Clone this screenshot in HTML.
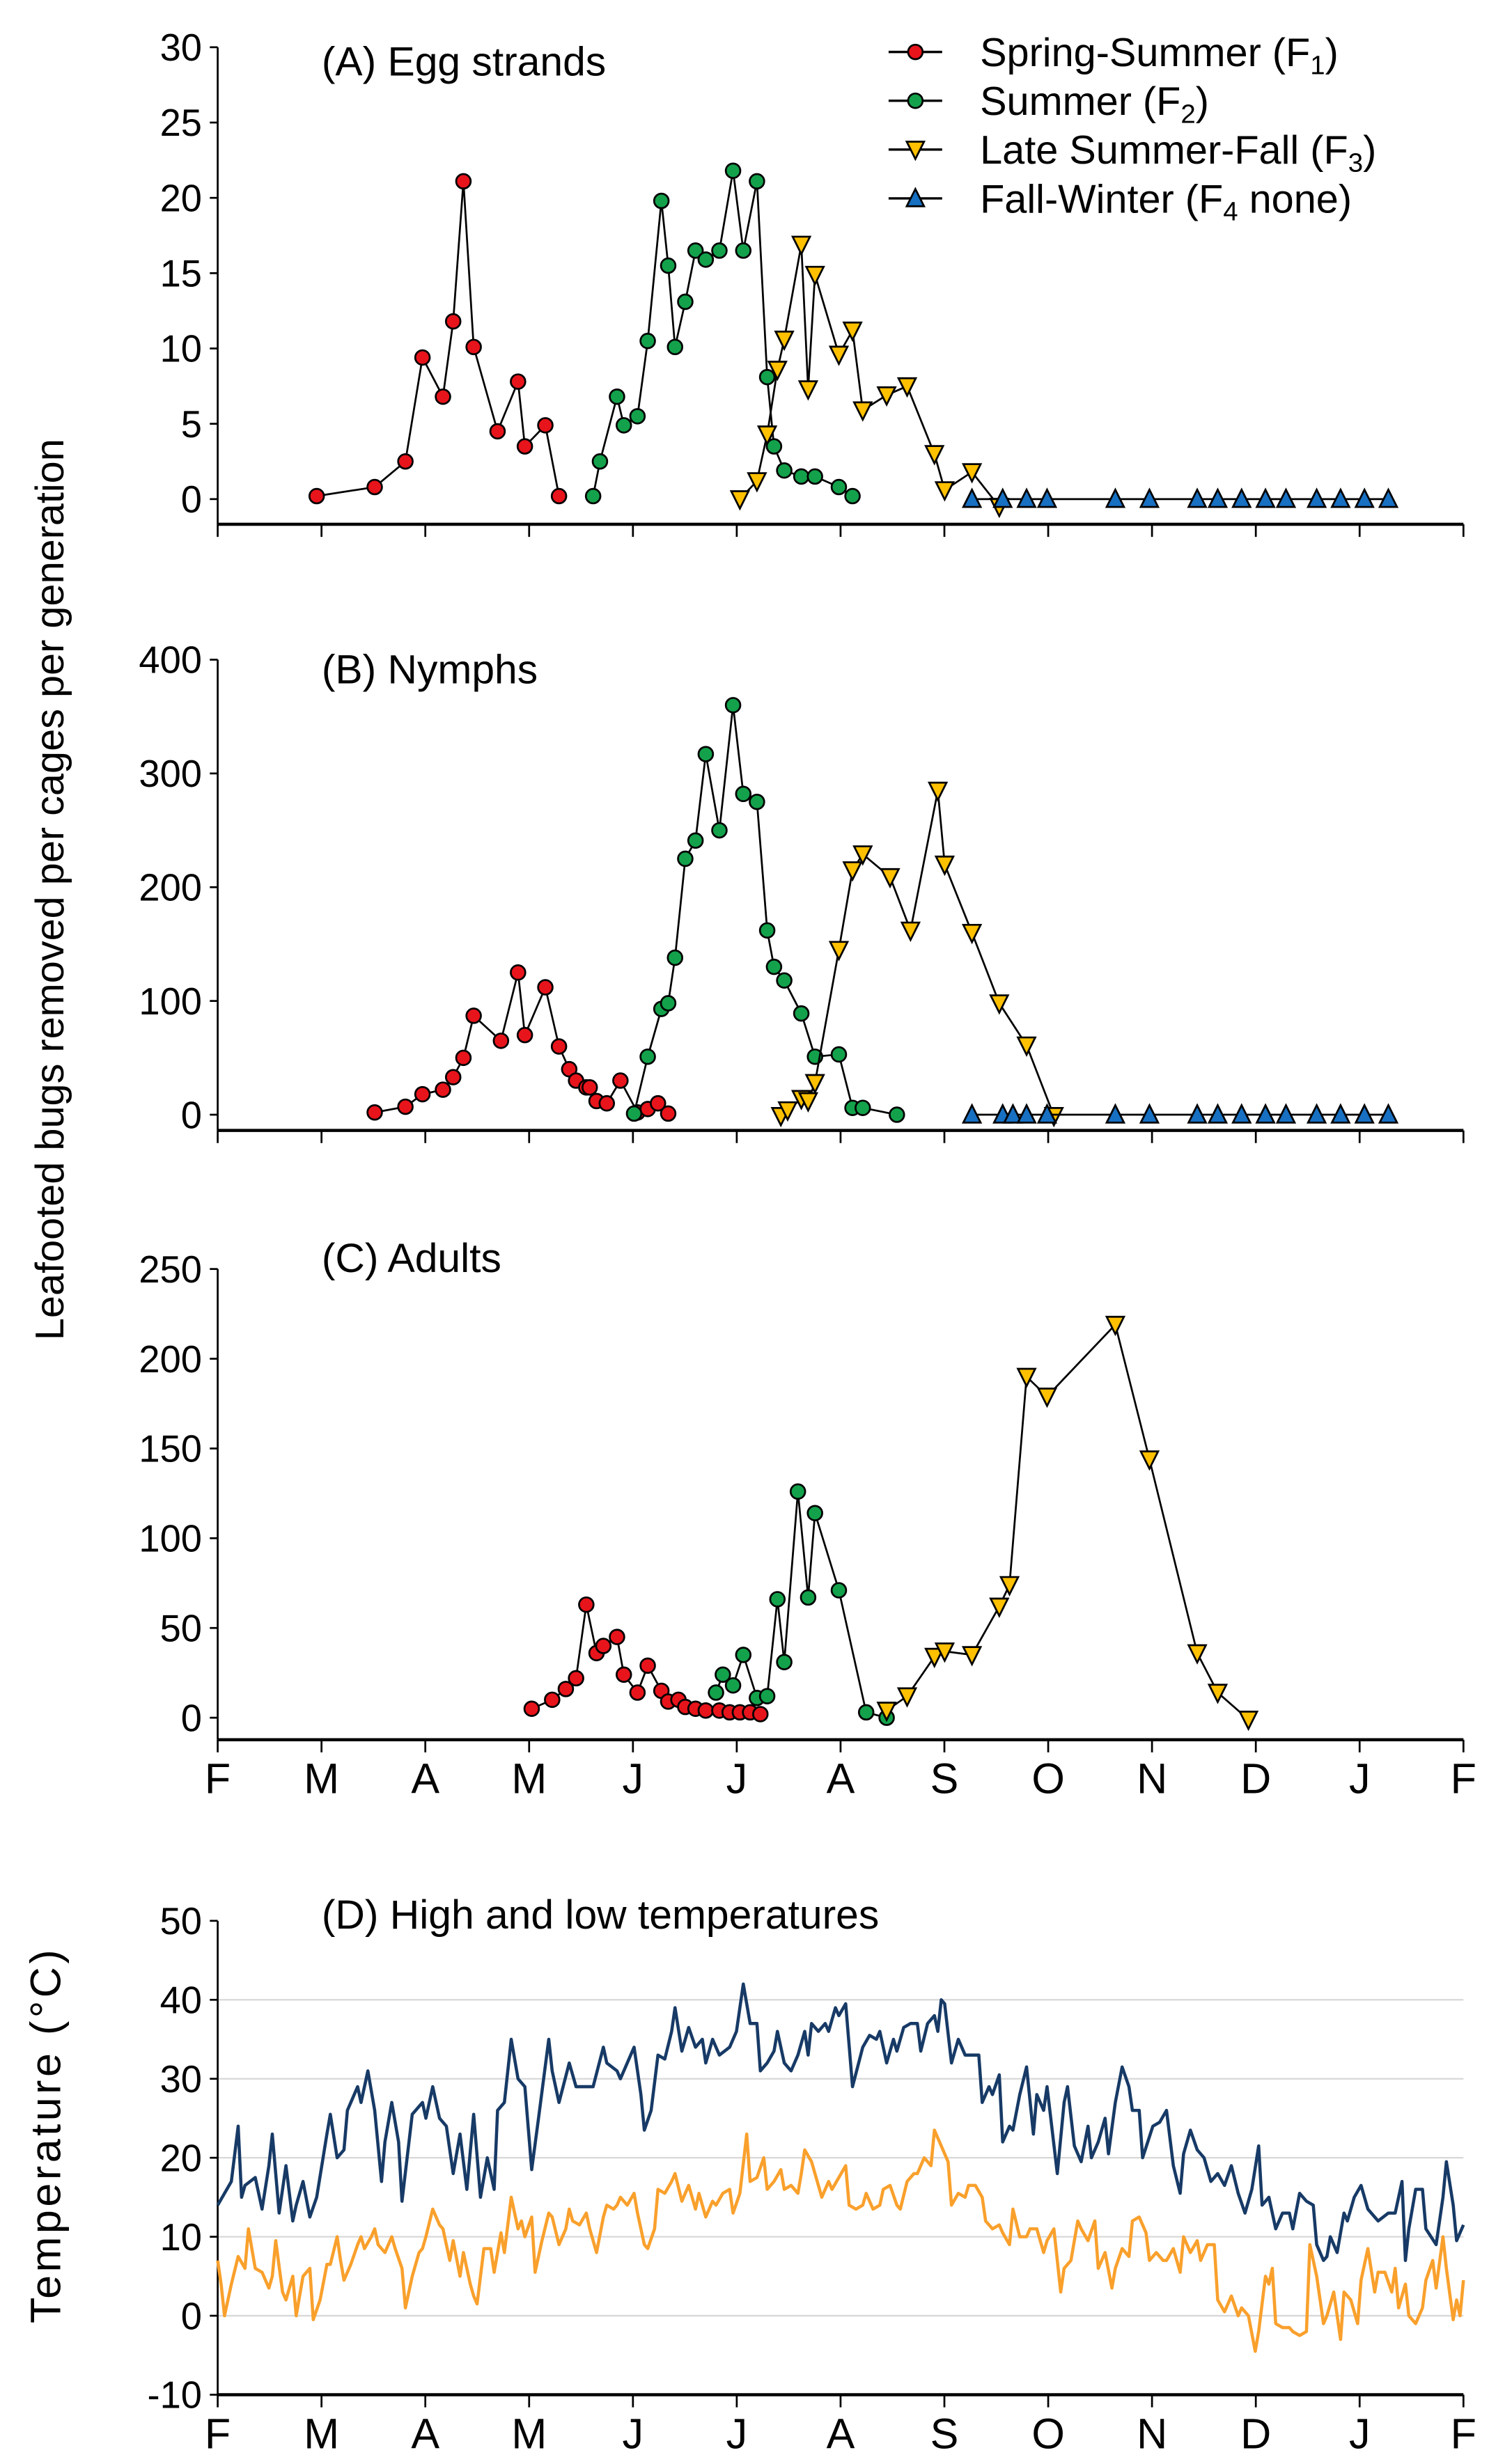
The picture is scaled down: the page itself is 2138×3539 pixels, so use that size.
<!DOCTYPE html>
<html><head><meta charset="utf-8"><style>
html,body{margin:0;padding:0;background:#fff}
svg{display:block}
text{font-family:"Liberation Sans",Arial,sans-serif;fill:#000}
text.narrow{font-family:"Liberation Sans Narrow","Arial Narrow","Liberation Sans",sans-serif}
</style></head><body>
<svg id="fig" width="2138" height="3539" viewBox="0 0 945 1565" xmlns="http://www.w3.org/2000/svg"></svg>
<script>
// ---------- data ----------
const months = ["F","M","A","M","J","J","A","S","O","N","D","J","F"];
// Panel A: egg strands (day since Feb 1, value)
const aF1Days = [29,46,55,60,66,69,72,75,82,88,90,96,100];
const aF1Vals = [0.2,0.8,2.5,9.4,6.8,11.8,21.1,10.1,4.5,7.8,3.5,4.9,0.2];
const aF2Days = [110,112,117,119,123,126,130,132,134,137,140,143,147,151,154,158,161,163,166,171,175,182,186];
const aF2Vals = [0.2,2.5,6.8,4.9,5.5,10.5,19.8,15.5,10.1,13.1,16.5,15.9,16.5,21.8,16.5,21.1,8.1,3.5,1.9,1.5,1.5,0.8,0.2];
const aF3Days = [153,158,161,164,166,171,173,175,182,186,189,196,202,210,213,221,229];
const aF3Vals = [0,1.2,4.3,8.6,10.6,16.9,7.3,14.9,9.6,11.2,5.9,6.9,7.5,3,0.6,1.8,-0.5];
const aF4Days = [221,230,237,243,263,273,287,293,300,307,313,322,329,336,343];
const aF4Vals = [0,0,0,0,0,0,0,0,0,0,0,0,0,0,0];
// Panel B: nymphs
const bF1Days = [46,55,60,66,69,72,75,83,88,90,96,100,103,105,108,109,111,114,118,123,126,129,132];
const bF1Vals = [2,7,18,22,33,50,87,65,125,70,112,60,40,30,24,24,12,10,30,2,5,10,1];
const bF2Days = [122,126,130,132,134,137,140,143,147,151,154,158,161,163,166,171,175,182,186,189,199];
const bF2Vals = [1,51,93,98,138,225,241,317,250,360,282,275,162,130,118,89,51,53,6,6,0];
const bF3Days = [165,167,171,173,175,182,186,189,197,203,211,213,221,229,237,245];
const bF3Vals = [-1,4,14,12,28,145,215,229,209,162,285,220,160,98,61,-1];
const bF4Days = [221,230,233,237,243,263,273,287,293,300,307,313,322,329,336,343];
const bF4Vals = [0,0,0,0,0,0,0,0,0,0,0,0,0,0,0,0];
// Panel C: adults
const cF1Days = [92,98,102,105,108,111,113,117,119,123,126,130,132,135,137,140,143,147,150,153,156,159];
const cF1Vals = [5,10,16,22,63,36,40,45,24,14,29,15,9,10,6,5,4,4,3,3,3,2];
const cF2Days = [146,148,151,154,158,161,164,166,170,173,175,182,190,196];
const cF2Vals = [14,24,18,35,11,12,66,31,126,67,114,71,3,0];
const cF3Days = [196,202,210,213,221,229,232,237,243,263,273,287,293,302];
const cF3Vals = [4,12,34,37,35,62,74,190,179,219,144,36,14,-1];
// Panel D: temperatures
const hiDays = [0,4,6,7,8,11,13,15,16,18,20,22,23,25,27,29,32,33,35,37,38,41,42,44,46,48,49,51,53,54,57,60,61,63,65,67,69,71,73,75,77,79,81,82,84,86,88,90,92,94,97,98,100,103,105,108,110,113,114,117,118,121,122,124,125,127,129,131,133,134,136,138,140,142,143,145,147,150,152,154,156,158,159,161,163,164,166,168,170,172,173,174,176,178,179,181,182,184,186,189,191,193,194,196,198,199,201,203,205,206,208,210,211,212,213,215,217,219,221,223,224,226,227,229,230,232,233,235,237,239,240,242,243,246,248,249,251,253,255,256,258,260,261,263,265,267,268,270,271,274,276,278,280,282,283,285,287,289,291,293,295,297,299,301,303,305,306,308,310,312,314,315,317,319,321,322,324,325,326,328,330,331,333,335,337,339,340,343,345,347,348,349,351,353,354,357,359,360,362,363,365];
const hiVals = [14,17,24,15,16.5,17.5,13.5,19,23,13,19,12,14,17,12.5,15,23,25.5,20,21,26,29,27,31,26,17,22,27,22,14.5,25.5,27,25,29,25,24,18,23,16,25.5,15,20,16,26,27,35,30,29,18.5,25,35,31,27,32,29,29,29,34,32,31,30,33,34,28,23.5,26,33,32.5,36,39,33.5,36.5,34,35,32,35,33,34,36,42,37,37,31,32,33.5,36,32,31,33,36,33,37,36,37,36,39,38,39.5,29,34,35.5,35,36,32,35,33.5,36.5,37,37,33.5,37,38,36,40,39.5,32,35,33,33,33,27,29,28,30.5,22,24,23.5,28,31.5,23,28,26,29,18,27,29,21.5,19.5,24,20,22,25,20.5,27,31.5,29,26,26,20,24,24.5,26,19,15.5,20.5,23.5,21,20,17,18,16.5,19,15.5,13,16,21.5,14,15,11,13,13,11,15.5,14.5,14,9,7,7.5,10,8,13,12,15,16.5,13.5,12.5,12,13,13,17,7,11,16,16,11,9,15,19.5,14,9.5,11.5,11];
const loDays = [0,1,2,4,6,8,9,11,13,15,16,17,19,20,22,23,25,27,28,30,32,33,35,36,37,39,41,42,43,45,46,47,49,51,52,54,55,57,59,60,61,63,65,66,68,69,71,72,74,75,76,78,80,81,83,84,86,88,89,90,92,93,95,97,98,100,102,103,104,106,108,109,111,113,114,116,117,118,120,122,123,125,126,128,129,131,133,134,136,138,140,141,143,145,146,148,150,151,153,155,156,158,160,161,163,165,166,168,170,171,172,174,176,177,179,180,182,184,185,187,189,190,192,194,195,197,199,200,202,204,205,207,209,210,212,214,215,217,219,220,222,224,225,227,229,230,232,233,235,237,238,240,242,243,245,247,248,250,252,253,255,257,258,260,262,263,265,267,268,270,272,273,275,277,278,280,282,283,285,287,288,290,292,293,295,297,299,300,302,304,305,307,308,309,310,312,314,315,317,319,320,322,324,325,327,329,330,332,334,335,337,339,340,342,344,345,346,348,349,351,353,354,356,357,359,360,362,363,364,365];
const loVals = [7,4,0,4,7.5,6,11,6,5.5,3.5,5,9.5,3,2,5,0,5,6,-0.5,2,6.5,6.5,10,7,4.5,6.5,9,10,8.5,10,11,9,8,10,8.5,6,1,5,8,8.5,10,13.5,11.5,11,7,9.5,5,8,4,2.5,1.5,8.5,8.5,5.5,10.5,8,15,11,12,10,12.5,5.5,9.5,13,12.5,9,11,13.5,12,11.5,13,11,8,12.5,14,13.5,14,15,14,15.5,13,9,8.5,11,16,15.5,17,18,14.5,16.5,13.5,15.5,12.5,14.5,14,15.5,16,13,15.5,23,17,17.5,20,16,17,18.5,16,16.5,15.5,18,21,19.5,16.5,15,17,16,17.5,19,14,13.5,14,15.5,13.5,14,16,16.5,14,13.5,17,18,18,20,19,23.5,21.5,19.5,14,15.5,15,16.5,16.5,15,12,11,11.5,10.5,9,13.5,10,10,11,11,8,9.5,11,3,6,7,12,11,9.5,12,6,8,3.5,6,8.5,7.5,12,12.5,10.5,7,8,7,7,8.5,5.5,10,8,9.5,7,9,9,2,0.5,2.5,0,1,0,-4.5,-2,5,4,6,-1,-1.5,-1.5,-2,-2.5,-2,9,5,-1,0,3,-3,3,2,-1,4.5,8.5,3,5.5,5.5,3,6,1,4,0,-1,1,4.5,7,3.5,10,6,-0.5,2,0,4.5];
const ticksA = [0,5,10,15,20,25,30];
const ticksB = [0,100,200,300,400];
const ticksC = [0,50,100,150,200,250];
const ticksD = [-10,0,10,20,30,40,50];

// ---------- drawing ----------
const NS = "http://www.w3.org/2000/svg";
const svg = document.getElementById("fig");
const X0 = 138, X1 = 929;
function xDay(d){ return X0 + d/365*(X1-X0); }
function mk(tag, attrs, parent){ const e=document.createElementNS(NS,tag); for(const k in attrs) e.setAttribute(k,attrs[k]); (parent||svg).appendChild(e); return e; }
function txt(s, x, y, size, anchor, parent){ const t=mk("text",{x:x,y:y,"font-size":size,"text-anchor":anchor||"start"},parent); t.textContent=s; return t; }

function panel(name, vMin, vMax, yTop, yBot, axisY, ticks, showMonths, grid){
  const g = mk("g",{});
  
  
  const y = v => yBot - (v - vMin)/(vMax - vMin)*(yBot - yTop);
  if(grid){ ticks.forEach(t=>{ if(t>vMin && t<vMax){ const l=mk("line",{x1:X0,x2:X1,y1:y(t),y2:y(t),stroke:"#d8d8d8","stroke-width":1},g);
    
     } }); }
  const ya = mk("line",{x1:X0,x2:X0,y1:y(vMax),y2:axisY,stroke:"#000","stroke-width":1.2},g);
  
  
  const xa = mk("line",{x1:X0,x2:X1,y1:axisY,y2:axisY,stroke:"#000","stroke-width":2},g);
  
  
  ticks.forEach(t=>{
    mk("line",{x1:X0-5,x2:X0,y1:y(t),y2:y(t),stroke:"#000","stroke-width":1.2},g);
    const tl = txt(String(t), X0-10, y(t)+8.5, 24, "end", g);
    tl.setAttribute("class","narrow");
    
    
  });
  months.forEach((m,i)=>{
    const xx = X0 + i*(X1-X0)/12;
    mk("line",{x1:xx,x2:xx,y1:axisY,y2:axisY+8,stroke:"#000","stroke-width":1.2},g);
    if(showMonths){ const ml = txt(m, xx, axisY+34, 27, "middle", g);
      ml.setAttribute("class","narrow");
      
       }
  });
  return {g, y};
}

function series(p, name, days, vals, marker, fill){
  const g = mk("g",{},p.g);
  
  
  const pts = days.map((d,i)=>xDay(d)+","+p.y(vals[i])).join(" ");
  mk("polyline",{points:pts,fill:"none",stroke:"#000","stroke-width":1.2},g);
  days.forEach((d,i)=>{ drawMarker(g, xDay(d), p.y(vals[i]), marker, fill); });
}
function drawMarker(g, x, y, marker, fill){
  let m;
  if(marker==="circle") m = mk("circle",{cx:x,cy:y,r:4.6,fill:fill,stroke:"#000","stroke-width":1.2},g);
  else if(marker==="down") m = mk("polygon",{points:`${x-5.5},${y-5} ${x+5.5},${y-5} ${x},${y+6}`,fill:fill,stroke:"#000","stroke-width":1.2},g);
  else m = mk("polygon",{points:`${x-5.5},${y+5} ${x+5.5},${y+5} ${x},${y-6}`,fill:fill,stroke:"#000","stroke-width":1.2},g);
  
  
}
const RED="#e8141b", GREEN="#13a24b", YEL="#ffc000", BLUE="#1770c2";

// Panel A
const pA = panel("panel-a-egg-strands", 0, 30, 30, 317, 333, ticksA, false, false);
series(pA,"series-f1",aF1Days,aF1Vals,"circle",RED);
series(pA,"series-f2",aF2Days,aF2Vals,"circle",GREEN);
series(pA,"series-f3",aF3Days,aF3Vals,"down",YEL);
series(pA,"series-f4",aF4Days,aF4Vals,"up",BLUE);
const tA = txt("(A) Egg strands", 204, 48, 26, "start");  

// Panel B
const pB = panel("panel-b-nymphs", 0, 400, 419, 708, 718, ticksB, false, false);
series(pB,"series-f1",bF1Days,bF1Vals,"circle",RED);
series(pB,"series-f2",bF2Days,bF2Vals,"circle",GREEN);
series(pB,"series-f3",bF3Days,bF3Vals,"down",YEL);
series(pB,"series-f4",bF4Days,bF4Vals,"up",BLUE);
const tB = txt("(B) Nymphs", 204, 434, 26, "start");  

// Panel C
const pC = panel("panel-c-adults", 0, 250, 806, 1091, 1105, ticksC, true, false);
series(pC,"series-f1",cF1Days,cF1Vals,"circle",RED);
series(pC,"series-f2",cF2Days,cF2Vals,"circle",GREEN);
series(pC,"series-f3",cF3Days,cF3Vals,"down",YEL);
const tC = txt("(C) Adults", 204, 808, 26, "start");  

// Panel D
const pD = panel("panel-d-temperature", -10, 50, 1220, 1521, 1521, ticksD, true, true);
function tline(days, vals, color, name){
  const l = mk("polyline",{points:days.map((d,i)=>xDay(d)+","+pD.y(vals[i])).join(" "),fill:"none",stroke:color,"stroke-width":2,"stroke-linejoin":"round"},pD.g);
  
  
}
tline(loDays, loVals, "#f9a02c", "low-temperature-line");
tline(hiDays, hiVals, "#173a66", "high-temperature-line");
const tD = txt("(D) High and low temperatures", 204, 1225, 26, "start");  

// Legend
const legItems = [["Spring-Summer (F","1",")","circle",RED],["Summer (F","2",")","circle",GREEN],["Late Summer-Fall (F","3",")","down",YEL],["Fall-Winter (F","4"," none)","up",BLUE]];
const lg = mk("g",{});


legItems.forEach((it,i)=>{
  const yy = 33 + i*31;
  const e = mk("g",{},lg);
  
  
  mk("line",{x1:564,x2:598,y1:yy,y2:yy,stroke:"#000","stroke-width":1.5},e);
  drawMarker(e, 581, yy, it[3], it[4]);
  const t = mk("text",{x:622,y:yy+9,"font-size":25.5},e);
  t.appendChild(document.createTextNode(it[0]));
  const s = mk("tspan",{"font-size":17,dy:5},t); s.textContent = it[1];
  const r = mk("tspan",{"font-size":25.5,dy:-5},t); r.textContent = it[2];
});

// Axis titles
const yt = txt("Leafooted bugs removed per cages per generation", 0, 0, 25.5, "middle");
yt.setAttribute("transform","translate(40,565) rotate(-90)");


const yt2 = txt("Temperature (°C)", 0, 0, 27, "middle");
yt2.setAttribute("transform","translate(38,1356) rotate(-90)");
yt2.setAttribute("letter-spacing","2");


</script>
</body></html>
